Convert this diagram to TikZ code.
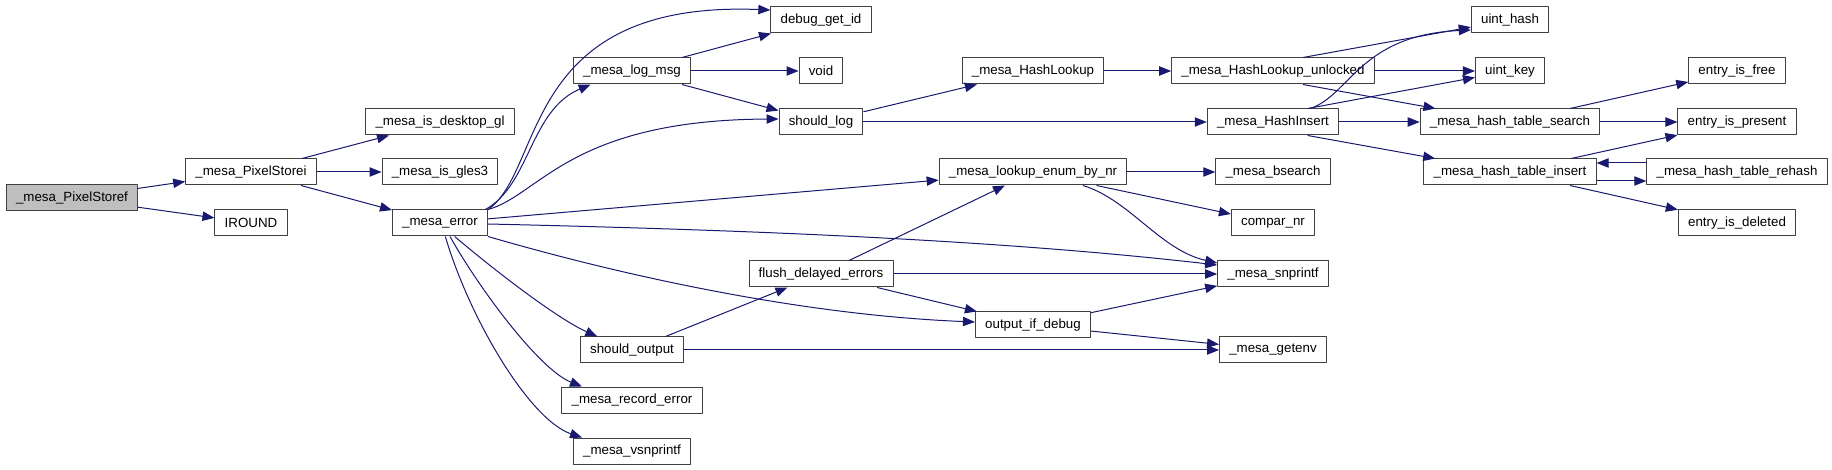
\documentclass[tikz,border=0pt]{standalone}
\usepackage{fontspec}
\setmainfont{Liberation Sans}
\usepackage{tikz}
\usetikzlibrary{arrows.meta}
\definecolor{edgeblue}{RGB}{25,25,112}
\definecolor{boxline}{RGB}{64,64,64}
\definecolor{rootgrey}{RGB}{191,191,191}

\begin{document}
\begin{tikzpicture}[x=0.75pt,y=0.75pt,line join=round,
  fn/.style={draw=boxline,line width=0.75pt,fill=white,inner xsep=7.3pt,inner ysep=0pt,minimum height=19.5pt,font=\fontsize{10}{12}\selectfont},
  call/.style={draw=edgeblue,line width=0.75pt,-{Triangle[length=9pt,width=7pt]}}]
  \useasboundingbox (0,0) rectangle (1832,-470);
  % the function boxes, placed at pixel centres
  \node[fn,fill=rootgrey] (sref) at (72,-198) {\_mesa\_PixelStoref};
  \foreach \name/\x/\y/\txt in {
      srei/251/172/{\_mesa\_PixelStorei}, iround/251/223/{IROUND},
      dgl/440/122/{\_mesa\_is\_desktop\_gl}, gles/440/172/{\_mesa\_is\_gles3}, err/440/223/{\_mesa\_error},
      logmsg/632/71/{\_mesa\_log\_msg}, shout/632/350/{should\_output}, recerr/632/400/{\_mesa\_record\_error}, vsnpr/632/451/{\_mesa\_vsnprintf},
      dbg/821/20/{debug\_get\_id}, void/821/71/{void}, shlog/821/122/{should\_log}, flush/821/274/{flush\_delayed\_errors},
      hlook/1033/71/{\_mesa\_HashLookup}, lenum/1033/172/{\_mesa\_lookup\_enum\_by\_nr}, outdbg/1033/325/{output\_if\_debug},
      hlookul/1273/71/{\_mesa\_HashLookup\_unlocked}, hins/1273/122/{\_mesa\_HashInsert}, bsrch/1273/172/{\_mesa\_bsearch},
      compar/1273/223/{compar\_nr}, snpr/1273/274/{\_mesa\_snprintf}, getenv/1273/350/{\_mesa\_getenv},
      uhash/1510/20/{uint\_hash}, ukey/1510/71/{uint\_key}, htsearch/1510/122/{\_mesa\_hash\_table\_search}, htins/1510/172/{\_mesa\_hash\_table\_insert},
      efree/1737/71/{entry\_is\_free}, epres/1737/122/{entry\_is\_present}, rehash/1737/172/{\_mesa\_hash\_table\_rehash}, edel/1737/223/{entry\_is\_deleted}}
    {\node[fn] (\name) at (\x,-\y) {\txt};}
  % straight calls
  \foreach \a/\b in {sref/srei, sref/iround, srei/dgl, srei/gles, srei/err, err/lenum,
      logmsg/dbg, logmsg/void, logmsg/shlog, shlog/hlook, shlog/hins, hlook/hlookul, hlookul/ukey,
      hins/htsearch, htsearch/efree, htsearch/epres, htins/epres, htins/edel,
      lenum/bsrch, lenum/compar, flush/lenum, flush/snpr, flush/outdbg, shout/flush, shout/getenv,
      outdbg/snpr, outdbg/getenv}
    {\draw[call] (\a) -- (\b);}
  \draw[call] ([xshift=22.5pt]hlookul.north) -- (uhash);
  \draw[call] ([xshift=22.5pt]hlookul.south) -- (htsearch);
  \draw[call] ([xshift=26pt]hins.north) -- (ukey);
  \draw[call] ([xshift=26pt]hins.south) -- (htins);
  \draw[call] ([yshift=-6.75pt]htins.east) -- ([yshift=-6.75pt]rehash.west);
  \draw[call] ([yshift=6.75pt]rehash.west) -- ([yshift=6.75pt]htins.east);
  % curved calls out of _mesa_error
  \draw[call] (err.north east) .. controls (545,-170) and (520,0) .. ([yshift=7.5pt]dbg.west);
  \draw[call] ([xshift=-2pt]err.north east) .. controls (530,-185) and (530,-110) .. ([xshift=-31pt]logmsg.south);
  \draw[call] (err.north east) .. controls (540,-195) and (570,-120) .. ([yshift=2.25pt]shlog.west);
  \draw[call] ([yshift=-0.75pt]err.east) .. controls (750,-230) and (1000,-240) .. ([yshift=6.75pt]snpr.west);
  \draw[call] (err.south east) .. controls (620,-275) and (800,-315) .. ([yshift=2.25pt]outdbg.west);
  \draw[call] ([xshift=11pt]err.south) .. controls (500,-275) and (560,-320) .. ([xshift=-26pt]shout.north);
  \draw[call] ([xshift=7.5pt]err.south) .. controls (480,-290) and (540,-370) .. ([xshift=-37.5pt]recerr.north);
  \draw[call] ([xshift=4pt]err.south) .. controls (470,-320) and (530,-420) .. ([xshift=-37.5pt]vsnpr.north);
  % other bends
  \draw[call] ([xshift=37.5pt]lenum.south) .. controls (1130,-200) and (1160,-250) .. ([yshift=8.25pt]snpr.west);
  \draw[call] ([xshift=28pt]hins.north) .. controls (1350,-95) and (1360,-35) .. ([yshift=-7.5pt]uhash.west);
\end{tikzpicture}
\end{document}
